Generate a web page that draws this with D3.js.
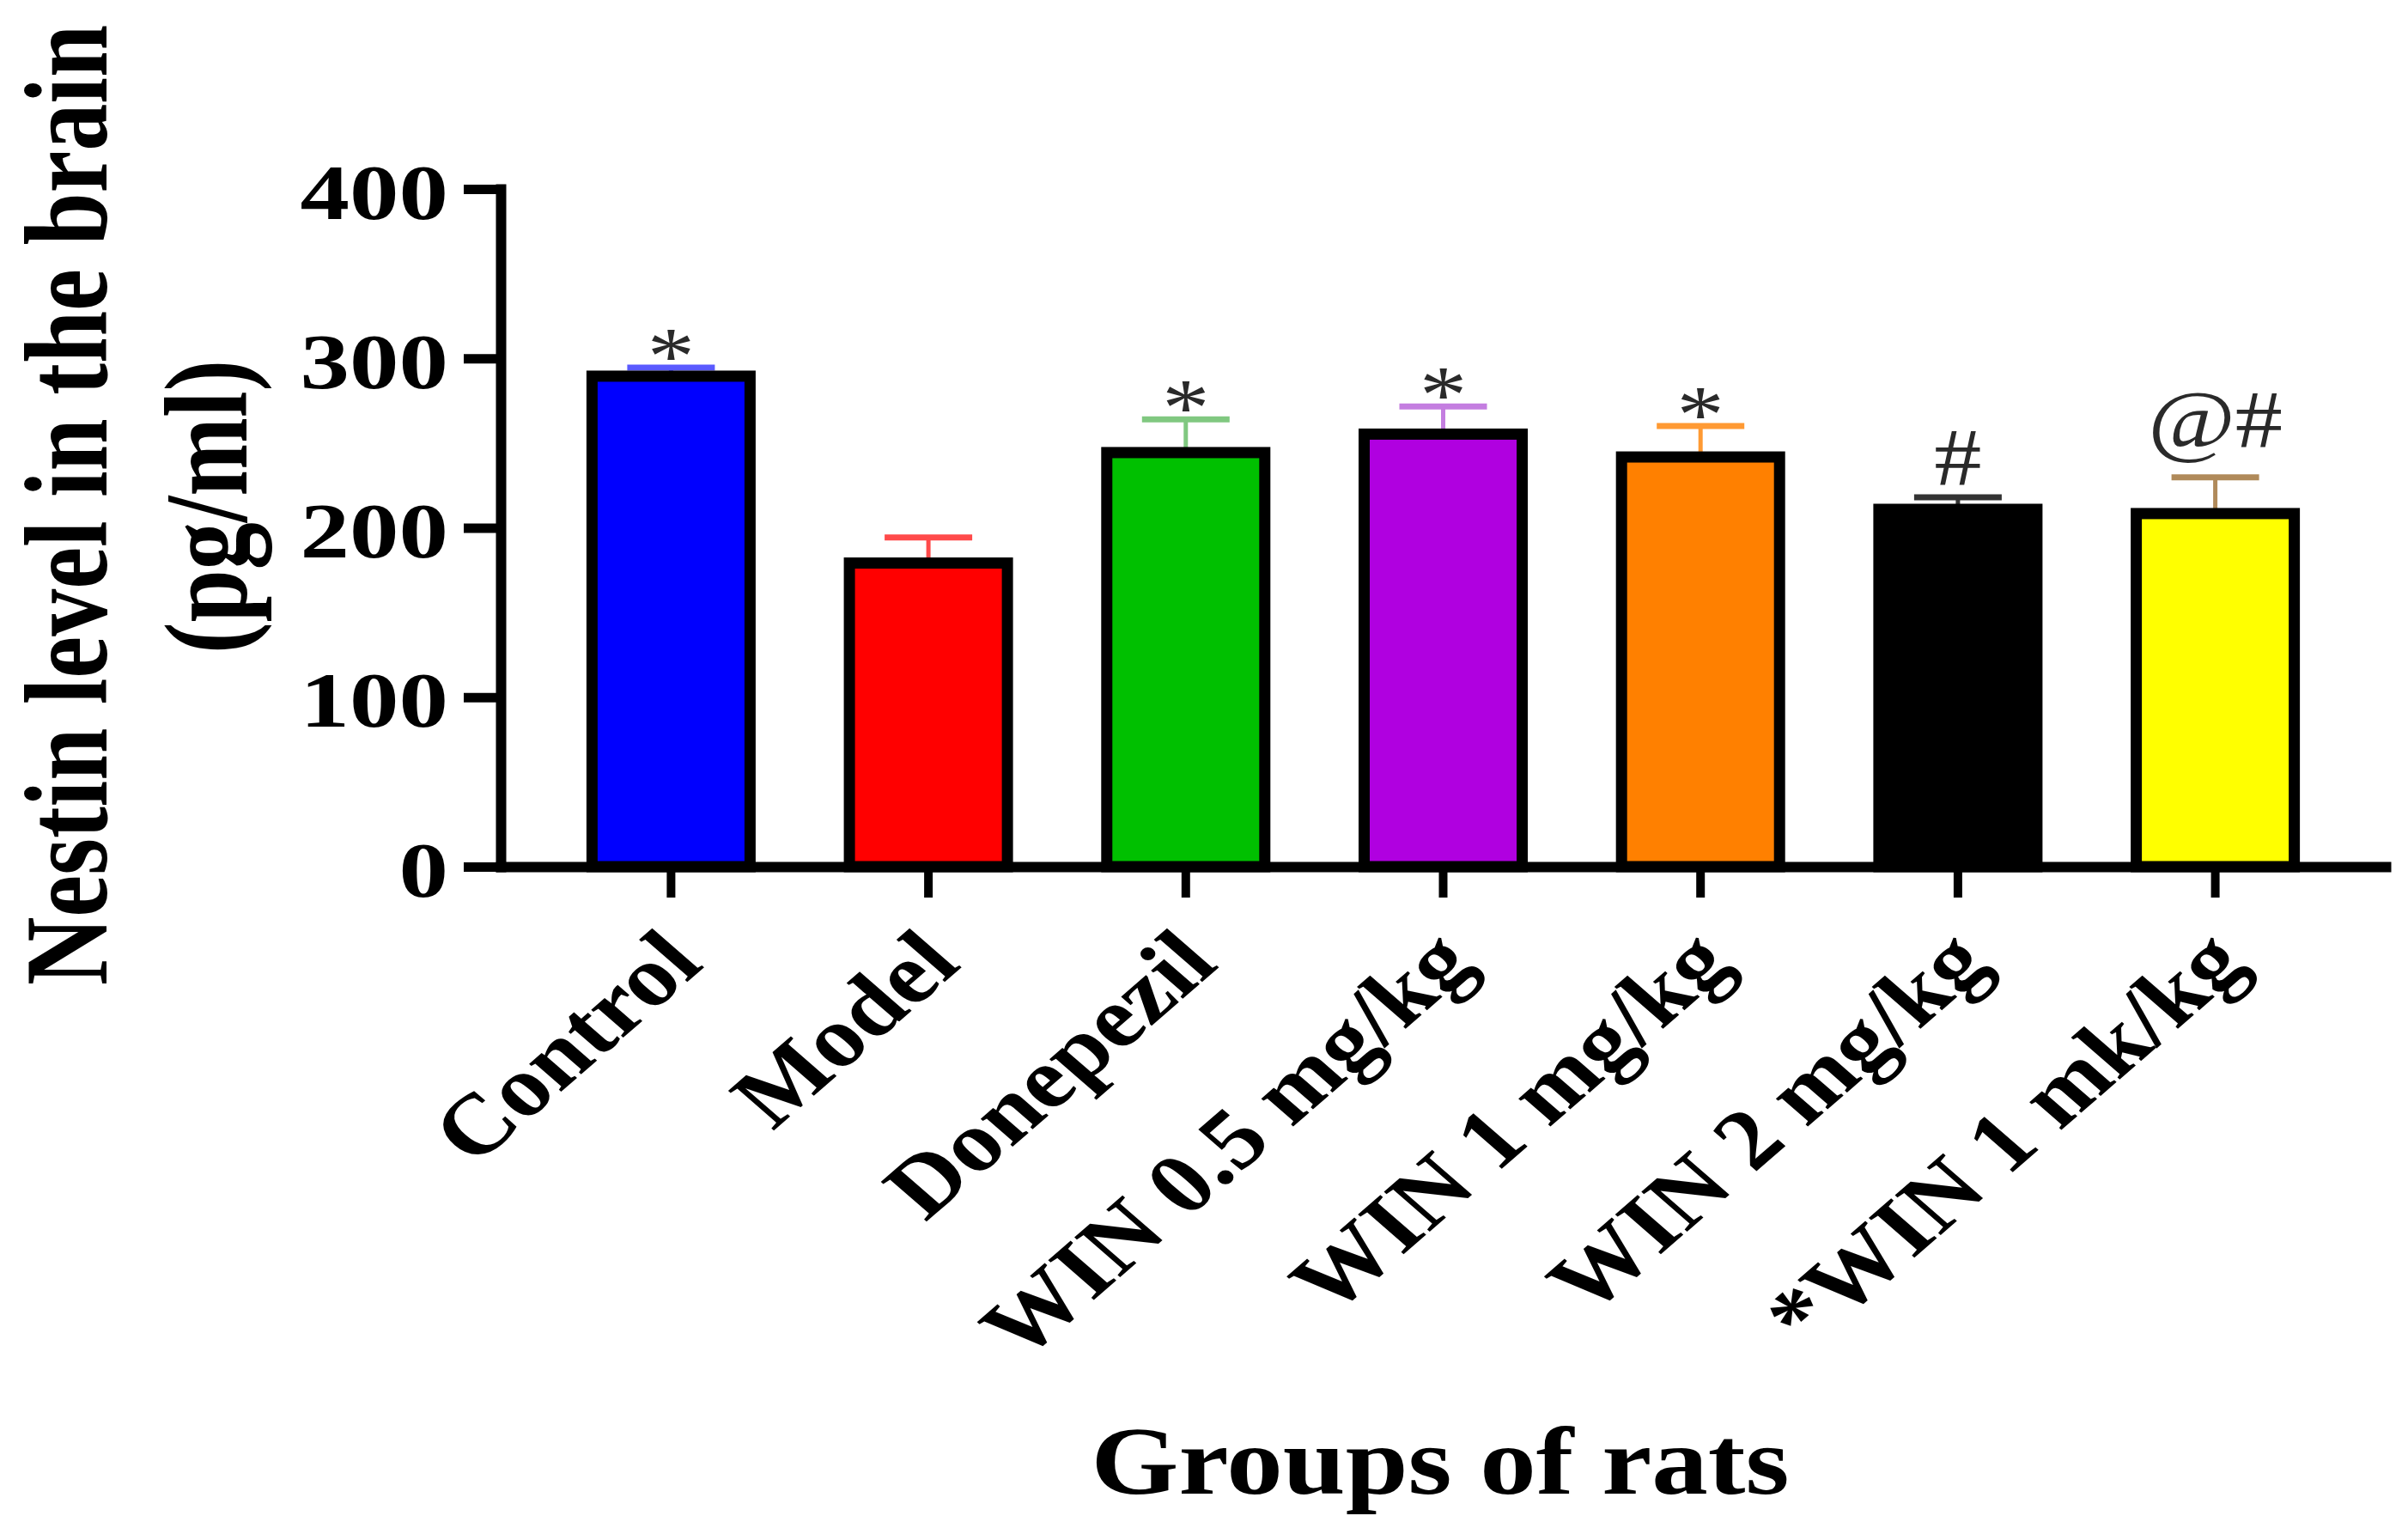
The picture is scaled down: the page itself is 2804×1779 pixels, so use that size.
<!DOCTYPE html>
<html>
<head>
<meta charset="utf-8">
<script src="https://cdn.jsdelivr.net/npm/d3@7"></script>
<style>
  body { margin: 0; background: #fff; }
  svg { display: block; font-family: 'Liberation Serif', 'Times New Roman', serif; }
</style>
</head>
<body>
<div id="chart"></div>
<script>
// values (pg/ml, mean and SEM)
const groups = ['Control', 'Model', 'Donepezil', 'WIN 0.5 mg/kg', 'WIN 1 mg/kg', 'WIN 2 mg/kg', '*WIN 1 mk/kg'];
const means = [289.5, 179.2, 244.4, 255.3, 241.8, 210.9, 208.4];
const sems = [5, 15.1, 19.6, 16.3, 18.3, 7.1, 21.4];
const marks = ['*', '', '*', '*', '*', '#', '@#'];
const yTicks = [0, 100, 200, 300, 400];

const fillColors = ['#0000ff', '#ff0000', '#00c000', '#b000e0', '#ff8000', '#000000', '#ffff00'];
const errColors = ['#5a5aff', '#ff4a4a', '#80c880', '#c47ee0', '#ff9a33', '#333333', '#b08a5a'];

const width = 2804;
const height = 1779;

const data = groups.map((g, i) => ({
    group: g,
    mean: means[i],
    sem: sems[i],
    mark: marks[i],
    fill: fillColors[i],
    err: errColors[i]
}));

const svg = d3.select('#chart')
    .append('svg')
    .attr('width', width)
    .attr('height', height);

const axisX = 583;
const axisY = 1009;

const xScale = d3.scaleBand()
    .domain(groups)
    .range([axisX, 2778])
    .paddingInner(0.386)
    .paddingOuter(0.355);

const yScale = d3.scaleLinear()
    .domain([0, 400])
    .range([axisY, 220]);

// error bars first so the bar outline sits over the whisker foot
const errs = svg.append('g').attr('class', 'errors');
errs.selectAll('line.whisker')
    .data(data)
    .join('line')
    .attr('class', 'whisker')
    .attr('x1', d => xScale(d.group) + xScale.bandwidth() / 2)
    .attr('x2', d => xScale(d.group) + xScale.bandwidth() / 2)
    .attr('y1', d => yScale(d.mean))
    .attr('y2', d => yScale(d.mean + d.sem))
    .attr('stroke', d => d.err)
    .attr('stroke-width', 5);

errs.selectAll('line.cap')
    .data(data)
    .join('line')
    .attr('class', 'cap')
    .attr('x1', d => xScale(d.group) + xScale.bandwidth() / 2 - 51)
    .attr('x2', d => xScale(d.group) + xScale.bandwidth() / 2 + 51)
    .attr('y1', d => yScale(d.mean + d.sem))
    .attr('y2', d => yScale(d.mean + d.sem))
    .attr('stroke', d => d.err)
    .attr('stroke-width', 7);

// bars
svg.append('g')
    .attr('class', 'bars')
    .selectAll('rect')
    .data(data)
    .join('rect')
    .attr('x', d => xScale(d.group))
    .attr('y', d => yScale(d.mean))
    .attr('width', xScale.bandwidth())
    .attr('height', d => yScale(0) - yScale(d.mean))
    .attr('fill', d => d.fill)
    .attr('stroke', '#000')
    .attr('stroke-width', 13);

// significance marks, baseline shifted per symbol so the glyph sits on the cap
function markOffset(m) {
    if (m === '*') return 19;
    if (m === '#') return -14;
    return -35;
}

svg.append('g')
    .attr('class', 'marks')
    .selectAll('text')
    .data(data.filter(d => d.mark))
    .join('text')
    .attr('transform', d => {
        const cx = xScale(d.group) + xScale.bandwidth() / 2;
        const cy = yScale(d.mean + d.sem) + markOffset(d.mark);
        return `translate(${cx},${cy}) scale(1.15,1)`;
    })
    .attr('text-anchor', 'middle')
    .style('font-size', '96px')
    .style('fill', '#2a2a2a')
    .text(d => d.mark);

// y axis
const yAxis = svg.append('g')
    .attr('transform', `translate(${axisX},0)`)
    .call(d3.axisLeft(yScale).tickValues(yTicks).tickSize(43).tickSizeOuter(0));

yAxis.select('.domain')
    .attr('stroke-width', 12)
    .attr('stroke-linecap', 'square');
yAxis.selectAll('.tick line').attr('stroke-width', 11);
yAxis.selectAll('.tick text')
    .attr('x', 0)
    .attr('dy', null)
    .attr('transform', 'translate(-61,34) scale(1.25,1)')
    .attr('text-anchor', 'end')
    .style('font-family', "'Liberation Serif', 'Times New Roman', serif")
    .style('font-weight', 'bold')
    .style('font-size', '92px')
    .attr('fill', '#000');

// x axis
const xAxis = svg.append('g')
    .attr('transform', `translate(0,${axisY})`)
    .call(d3.axisBottom(xScale).tickSize(36).tickSizeOuter(0));

xAxis.select('.domain')
    .attr('stroke-width', 12)
    .attr('stroke-linecap', 'square');
xAxis.selectAll('.tick line').attr('stroke-width', 10);
xAxis.selectAll('.tick text')
    .attr('y', 0)
    .attr('dy', null)
    .attr('transform', 'translate(40,116) scale(1.15,1) rotate(-45)')
    .attr('text-anchor', 'end')
    .style('font-family', "'Liberation Serif', 'Times New Roman', serif")
    .style('font-weight', 'bold')
    .style('font-size', '100px')
    .attr('fill', '#000');

// axis titles
svg.append('text')
    .attr('transform', 'translate(124,588) scale(1.26,1) rotate(-90)')
    .attr('text-anchor', 'middle')
    .style('font-weight', 'bold')
    .style('font-size', '110px')
    .text('Nestin level in the brain');

svg.append('text')
    .attr('transform', 'translate(287,590) scale(1.26,1) rotate(-90)')
    .attr('text-anchor', 'middle')
    .style('font-weight', 'bold')
    .style('font-size', '110px')
    .text('(pg/ml)');

svg.append('text')
    .attr('transform', 'translate(1677,1739) scale(1.17,1)')
    .attr('text-anchor', 'middle')
    .style('font-weight', 'bold')
    .style('font-size', '112px')
    .text('Groups of rats');
</script>
</body>
</html>
